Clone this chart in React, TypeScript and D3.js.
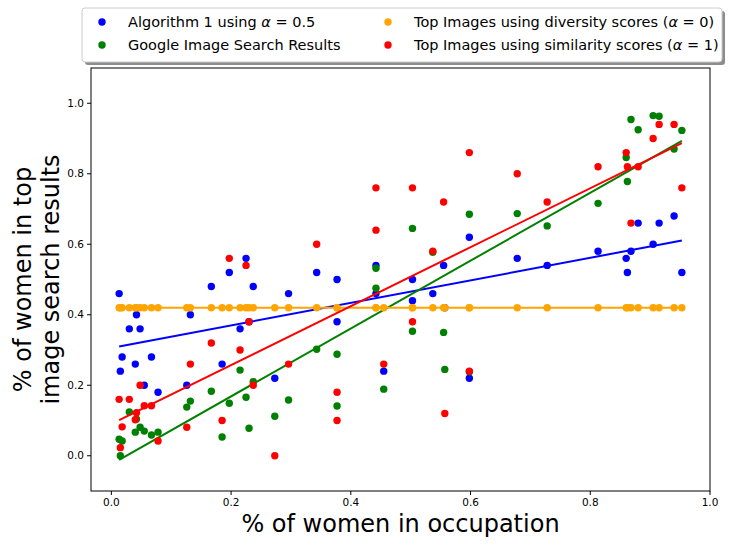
import React from 'react';
import * as d3 from 'd3';

// share of women in each occupation (x) and share of women in the returned images (y)
const occupation = [
  0.013, 0.015, 0.018, 0.03, 0.04, 0.042, 0.048, 0.055, 0.067, 0.078,
  0.126, 0.132, 0.167, 0.185, 0.197, 0.215, 0.225, 0.23, 0.237, 0.273,
  0.296, 0.343, 0.377, 0.377, 0.442, 0.442, 0.455, 0.503, 0.503, 0.537,
  0.555, 0.557, 0.598, 0.598, 0.678, 0.728, 0.813, 0.86, 0.862, 0.868,
  0.88, 0.905, 0.915, 0.94, 0.953,
];

const algorithm = [
  0.46, 0.24, 0.28, 0.36, 0.26, 0.4, 0.36, 0.2, 0.28, 0.18,
  0.2, 0.4, 0.48, 0.26, 0.52, 0.36, 0.56, 0.38, 0.48, 0.22,
  0.46, 0.52, 0.5, 0.38, 0.54, 0.46, 0.24, 0.5, 0.44, 0.46,
  0.54, 0.42, 0.62, 0.22, 0.56, 0.54, 0.58, 0.56, 0.52, 0.58,
  0.66, 0.6, 0.66, 0.68, 0.52,
];

const google = [
  0.047, 0.0, 0.042, 0.124, 0.067, 0.104, 0.081, 0.07, 0.059, 0.067,
  0.138, 0.155, 0.183, 0.053, 0.149, 0.243, 0.166, 0.078, 0.21, 0.112,
  0.158, 0.302, 0.288, 0.141, 0.475, 0.532, 0.189, 0.645, 0.353, 0.577,
  0.35, 0.245, 0.685, 0.238, 0.687, 0.652, 0.716, 0.846, 0.778, 0.954,
  0.925, 0.965, 0.963, 0.87, 0.923,
];

const diversity = [
  0.42, 0.42, 0.42, 0.42, 0.42, 0.42, 0.42, 0.42, 0.42, 0.42,
  0.42, 0.42, 0.42, 0.42, 0.42, 0.42, 0.42, 0.42, 0.42, 0.42,
  0.42, 0.42, 0.42, 0.42, 0.42, 0.42, 0.42, 0.42, 0.42, 0.42,
  0.42, 0.42, 0.42, 0.42, 0.42, 0.42, 0.42, 0.42, 0.42, 0.42,
  0.42, 0.42, 0.42, 0.42, 0.42,
];

const similarity = [
  0.16, 0.023, 0.082, 0.16, 0.102, 0.122, 0.2, 0.142, 0.142, 0.042,
  0.081, 0.26, 0.32, 0.1, 0.56, 0.3, 0.54, 0.38, 0.2, 0.0,
  0.26, 0.6, 0.18, 0.1, 0.76, 0.64, 0.26, 0.76, 0.38, 0.58,
  0.72, 0.12, 0.86, 0.24, 0.8, 0.72, 0.82, 0.86, 0.82, 0.66,
  0.82, 0.9, 0.94, 0.94, 0.76,
];

const xTicks = [0, 0.2, 0.4, 0.6, 0.8, 1.0];
const yTicks = [0, 0.2, 0.4, 0.6, 0.8, 1.0];

const series = [
  { name: 'algorithm', values: algorithm, color: '#0000ff' },
  { name: 'google', values: google, color: '#008000' },
  { name: 'diversity', values: diversity, color: '#ffa500' },
  { name: 'similarity', values: similarity, color: '#ff0000' },
];

const W = 729;
const H = 545;
const margin = { left: 91, right: 19, top: 68, bottom: 54 };
const font = '"DejaVu Sans", sans-serif';

// least squares line through (xs, ys)
function fitLine(xs: number[], ys: number[]) {
  const mx = d3.mean(xs) as number;
  const my = d3.mean(ys) as number;
  let num = 0;
  let den = 0;
  xs.forEach((x, i) => {
    num += (x - mx) * (ys[i] - my);
    den += (x - mx) * (x - mx);
  });
  const slope = den === 0 ? 0 : num / den;
  return (x: number) => my + slope * (x - mx);
}

const App = () => {
  const [xMin, xMax] = d3.extent(occupation) as [number, number];
  const pad = (xMax - xMin) * 0.05;

  const x = d3.scaleLinear()
    .domain([xMin - pad, xMax + pad])
    .range([margin.left, W - margin.right]);
  const y = d3.scaleLinear()
    .domain([-0.1, 1.1])
    .range([H - margin.bottom, margin.top]);

  const line = d3.line<number>().x(d => x(d[0])).y(d => y(d[1]));

  const legendItems = [
    { color: '#0000ff', col: 0, row: 0, label: ['Algorithm 1 using ', 'α', ' = 0.5'] },
    { color: '#008000', col: 0, row: 1, label: ['Google Image Search Results'] },
    { color: '#ffa500', col: 1, row: 0, label: ['Top Images using diversity scores (', 'α', ' = 0)'] },
    { color: '#ff0000', col: 1, row: 1, label: ['Top Images using similarity scores (', 'α', ' = 1)'] },
  ];

  return (
    <div style={{ position: 'fixed', left: 0, top: 0, background: '#fff' }}>
      <svg width={W} height={H} style={{ display: 'block' }} fontFamily={font}>
        <rect width={W} height={H} fill="#fff" />

        {/* points and fitted lines, one series after another */}
        {series.map(s => {
          const f = fitLine(occupation, s.values);
          const ends: any = [[xMin, f(xMin)], [xMax, f(xMax)]];
          return (
            <g key={s.name}>
              {occupation.map((o, i) => (
                <circle key={i} cx={x(o)} cy={y(s.values[i])} r={3.7} fill={s.color} />
              ))}
              <path d={line(ends) || ''} fill="none" stroke={s.color} strokeWidth={2} />
            </g>
          );
        })}

        {/* frame */}
        <rect
          x={margin.left}
          y={margin.top}
          width={W - margin.left - margin.right}
          height={H - margin.top - margin.bottom}
          fill="none"
          stroke="#000"
          strokeWidth={1}
        />

        {/* x axis */}
        {xTicks.map(t => (
          <g key={'x' + t} transform={`translate(${x(t)},${H - margin.bottom})`}>
            <line y2={4} stroke="#000" />
            <text y={15} textAnchor="middle" fontSize={10.5}>{d3.format('.1f')(t)}</text>
          </g>
        ))}
        <text x={(margin.left + W - margin.right) / 2} y={532} textAnchor="middle" fontSize={24}>
          % of women in occupation
        </text>

        {/* y axis */}
        {yTicks.map(t => (
          <g key={'y' + t} transform={`translate(${margin.left},${y(t)})`}>
            <line x2={-4} stroke="#000" />
            <text x={-7} dy="0.35em" textAnchor="end" fontSize={10.5}>{d3.format('.1f')(t)}</text>
          </g>
        ))}
        <text transform={`translate(0,${(margin.top + H - margin.bottom) / 2}) rotate(-90)`} textAnchor="middle" fontSize={24}>
          <tspan x={0} y={31}>% of women in top</tspan>
          <tspan x={0} y={59}>image search results</tspan>
        </text>

        {/* legend */}
        <rect x={85} y={11} width={640} height={54} rx={3} fill="#8c8c8c" />
        <rect x={82} y={8} width={640} height={54} rx={3} fill="#fff" stroke="#cccccc" />
        {legendItems.map((d, i) => {
          const lx = d.col === 0 ? 102 : 388;
          const ly = d.row === 0 ? 22 : 45;
          return (
            <g key={i}>
              <circle cx={lx} cy={ly} r={3.7} fill={d.color} />
              <text x={lx + 26} y={ly + 5} fontSize={14.5}>
                {d.label.map((part, j) => (
                  <tspan key={j} fontStyle={part === 'α' ? 'italic' : 'normal'}>{part}</tspan>
                ))}
              </text>
            </g>
          );
        })}
      </svg>
    </div>
  );
};

export default App;
